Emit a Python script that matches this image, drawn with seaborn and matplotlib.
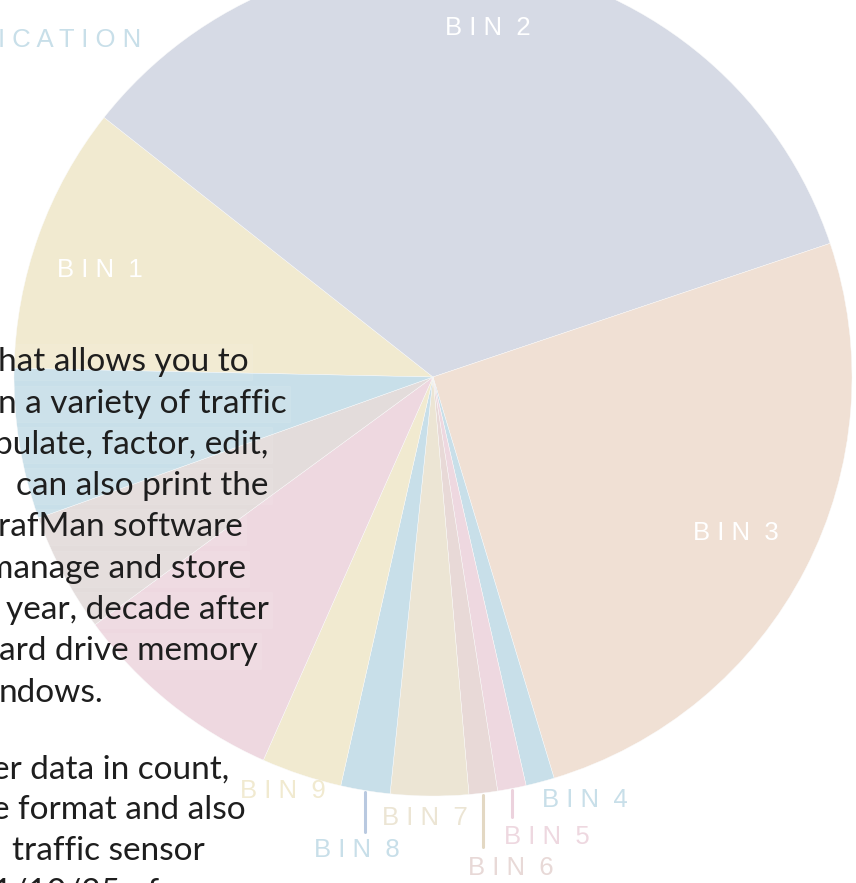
import numpy as np
import seaborn as sns
from matplotlib import pyplot as plt

# pie data (share of records per bin, %)
bins = ['BIN 1', 'BIN 2', 'BIN 3', 'BIN 4', 'BIN 5', 'BIN 6',
        'BIN 7', 'BIN 8', 'BIN 9', 'BIN 10', 'BIN 11', 'BIN 12']
shares = [10.3, 34.2, 25.5, 1.1, 1.1, 1.1, 3.0, 1.9, 3.1, 8.3, 4.6, 5.8]
colors = ['#f1ead0', '#d6dae5', '#f0e0d4', '#c8dfe9', '#eed8e0', '#e8d9d7',
          '#ece5d4', '#c8dfe9', '#f1ead0', '#eed8e0', '#e3dcdb', '#c8dfe9']
inside = ['BIN 1', 'BIN 2', 'BIN 3']
outside = ['BIN 4', 'BIN 5', 'BIN 6', 'BIN 7', 'BIN 8', 'BIN 9']
outside_colors = ['#c8dfe9', '#eed8e0', '#e8d9d7', '#ece5d4', '#c8dfe9', '#f1ead0']
leader_colors = [None, '#ecd2dd', '#e3d8c3', None, '#b9c9e0', None]

# page text lying under the chart (clipped at the left edge)
page_lines = ['hat allows you to', 'n a variety of traffic', 'pulate, factor, edit,',
              'can also print the', 'rafMan software', 'manage and store',
              'year, decade after', 'ard drive memory', 'ndows.',
              'er data in count,', 'e format and also', 'traffic sensor',
              '1/10/25 of']

W, H = 856, 883
CX, CY, R = 433, H - 377, 419
# label layout: inner label distance (x R), outer (dx, dy, leader drop) in px
in_dist = [0.83, 0.845, 0.82]
in_shift = [(-6, -10), (-6, 0), (-2, 2)]
out_layout = [(45, -18, 0), (35, -49, 27), (27, -75, 52),
              (-5, -22, 0), (-8, -60, 40), (-19, -16, 0)]

sns.set_theme(style='white')
plt.rcParams['font.family'] = ['Liberation Sans', 'DejaVu Sans']

fig = plt.figure(figsize=(W / 100, H / 100), dpi=100)
ax = fig.add_axes([0, 0, 1, 1])

wedges, _ = ax.pie(shares, colors=colors, startangle=178.8, counterclock=False,
                   center=(CX, CY), radius=R,
                   wedgeprops=dict(edgecolor='#fbfbfb', linewidth=0.3))
ax.set_xlim(0, W)
ax.set_ylim(0, H)
ax.set_aspect('equal')
ax.axis('off')


def spaced(s):
    return ' '.join(s.split(' ')[0]) + '  ' + s.split(' ')[1]


def mid(w):
    return np.deg2rad((w.theta1 + w.theta2) / 2)


for name, d, (sx, sy) in zip(inside, in_dist, in_shift):
    w = wedges[bins.index(name)]
    a = mid(w)
    ax.text(CX + d * R * np.cos(a) + sx, CY + d * R * np.sin(a) + sy, spaced(name),
            color='white', fontsize=18.5, ha='center', va='center')

for name, c, lc, (dx, dy, drop) in zip(outside, outside_colors, leader_colors, out_layout):
    w = wedges[bins.index(name)]
    a = mid(w)
    ex, ey = CX + R * np.cos(a), CY + R * np.sin(a)
    if drop:
        ax.plot([ex, ex], [ey - 2, ey - 2 - drop], color=lc, lw=2.2)
    ax.text(ex + dx, ey + dy, spaced(name), color=c, fontsize=18.5,
            ha='center', va='center')

ax.text(-2, H - 40, 'I C A T I O N', color='#c8dfe9', fontsize=18.5,
        ha='left', va='center')

ys = [362, 404, 445, 486, 527, 569, 610, 651, 693, 770, 810, 851, 893]
xs = [-2, -2, -6, 16, -2, -14, 6, -1, -1, -8, -8, 12, -7]
for s, y, x in zip(page_lines, ys, xs):
    ax.text(x, H - y, s, color='#1e1e1e', fontsize=24, ha='left', va='center',
            family=['Lato', 'DejaVu Sans'],
            bbox=dict(facecolor='white', alpha=0.08, edgecolor='#ffffff',
                      linewidth=0.6, boxstyle='square,pad=0.1'))

fig.savefig('out.png', dpi=100)
plt.close(fig)
